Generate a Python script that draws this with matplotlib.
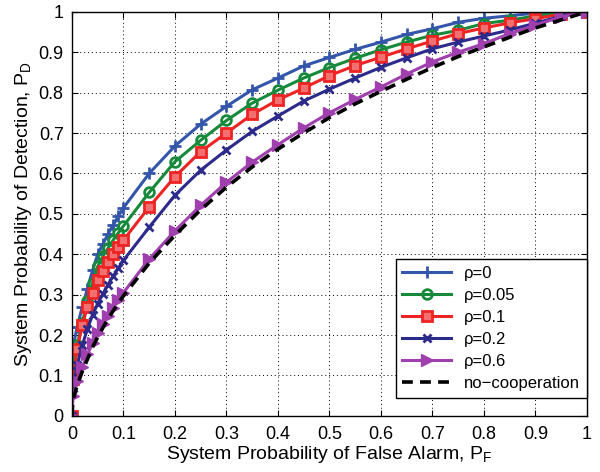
import matplotlib
matplotlib.use("Agg")
import matplotlib.pyplot as plt
import numpy as np

plt.rcParams["font.family"] = ["Liberation Sans", "DejaVu Sans"]
plt.rcParams["mathtext.fontset"] = "custom"
plt.rcParams["mathtext.rm"] = "Liberation Sans"
plt.rcParams["mathtext.it"] = "Liberation Sans"

# system probability of false alarm (x points)
pf = [0, 0.002, 0.01, 0.02, 0.03, 0.04, 0.05, 0.06, 0.07, 0.08, 0.09, 0.1,
      0.15, 0.2, 0.25, 0.3, 0.35, 0.4, 0.45, 0.5, 0.55, 0.6, 0.65, 0.7,
      0.75, 0.8, 0.85, 0.9, 0.95, 1.0]

pd_rho0 = [0, 0.17, 0.22, 0.27, 0.315, 0.36, 0.40, 0.425, 0.45, 0.472, 0.494, 0.515,
           0.60, 0.668, 0.722, 0.766, 0.807, 0.836, 0.866, 0.887, 0.907, 0.925, 0.944, 0.958,
           0.974, 0.984, 0.99, 0.997, 0.999, 1.0]
pd_rho005 = [0, 0.12, 0.175, 0.23, 0.285, 0.33, 0.37, 0.395, 0.415, 0.435, 0.453, 0.47,
             0.553, 0.629, 0.682, 0.731, 0.774, 0.806, 0.836, 0.862, 0.885, 0.906, 0.925, 0.942,
             0.954, 0.971, 0.979, 0.99, 0.996, 1.0]
pd_rho01 = [0, 0.09, 0.165, 0.225, 0.27, 0.305, 0.335, 0.358, 0.38, 0.40, 0.418, 0.435,
            0.517, 0.592, 0.654, 0.70, 0.746, 0.782, 0.811, 0.842, 0.867, 0.8875, 0.9085, 0.9275,
            0.946, 0.96, 0.9725, 0.983, 0.994, 1.0]
pd_rho02 = [0, 0.07, 0.125, 0.175, 0.215, 0.25, 0.278, 0.302, 0.325, 0.346, 0.366, 0.385,
            0.467, 0.546, 0.608, 0.658, 0.704, 0.742, 0.779, 0.8085, 0.836, 0.8625, 0.886, 0.9085,
            0.925, 0.94, 0.955, 0.972, 0.989, 1.0]
pd_rho06 = [0, 0.05, 0.085, 0.12, 0.152, 0.18, 0.205, 0.227, 0.248, 0.268, 0.287, 0.305,
            0.388, 0.458, 0.521, 0.578, 0.628, 0.671, 0.7125, 0.75, 0.783, 0.814, 0.846, 0.876,
            0.90, 0.921, 0.946, 0.967, 0.9875, 1.0]
pd_nocoop = [0, 0.04, 0.075, 0.11, 0.14, 0.17, 0.195, 0.218, 0.24, 0.26, 0.279, 0.297,
             0.378, 0.447, 0.51, 0.566, 0.616, 0.66, 0.70, 0.738, 0.772, 0.803, 0.833, 0.862,
             0.889, 0.913, 0.937, 0.96, 0.98, 1.0]

fig = plt.figure(figsize=(6, 4.72), dpi=100)
ax = fig.add_axes([0.12, 0.119, 0.858, 0.856])

lw = 2.2
ax.plot(pf, pd_rho0, color="#3355aa", marker="+", ms=9, mew=2, lw=lw, label="\u03c1=0")
ax.plot(pf, pd_rho005, color="#17893a", marker="o", ms=7, mew=2, mfc="none", lw=lw, label="\u03c1=0.05")
ax.plot(pf, pd_rho01, color="#ee2424", marker="s", ms=7, mew=2, mfc="#f27070", lw=lw, label="\u03c1=0.1")
ax.plot(pf, pd_rho02, color="#2c2a8a", marker="x", ms=6, mew=2, lw=lw, label="\u03c1=0.2")
ax.plot(pf, pd_rho06, color="#a03fae", marker=">", ms=8, lw=lw, label="\u03c1=0.6")
ax.plot(pf, pd_nocoop, color="black", ls=(0, (3, 2)), lw=2.6, label="no\u2212cooperation")

ticks = np.arange(0, 1.01, 0.1)
labels = ["0"] + ["%.1f" % t for t in ticks[1:-1]] + ["1"]
ax.set_xticks(ticks, labels)
ax.set_yticks(ticks, labels)
ax.set_xlim(0, 1)
ax.set_ylim(0, 1)
ax.tick_params(direction="in", top=True, right=True, labelsize=13, length=4)
ax.tick_params(axis="x", pad=7)
ax.tick_params(axis="y", pad=6)
ax.grid(True, color="black", ls=(0, (1, 3)), lw=0.7)
for s in ax.spines.values():
    s.set_linewidth(1.0)

ax.set_xlabel("System Probability of False Alarm, P$_\\mathrm{F}$", fontsize=14, labelpad=1)
ax.set_ylabel("System Probability of Detection, P$_\\mathrm{D}$", fontsize=14, labelpad=3)

leg = ax.legend(loc="lower right", bbox_to_anchor=(1.0, 0.045), numpoints=1, fontsize=12,
                fancybox=False, edgecolor="black", framealpha=1, handlelength=2.9,
                borderaxespad=0.0, labelspacing=0.42)
leg.get_frame().set_linewidth(1.0)

fig.savefig("out.png", dpi=100)
